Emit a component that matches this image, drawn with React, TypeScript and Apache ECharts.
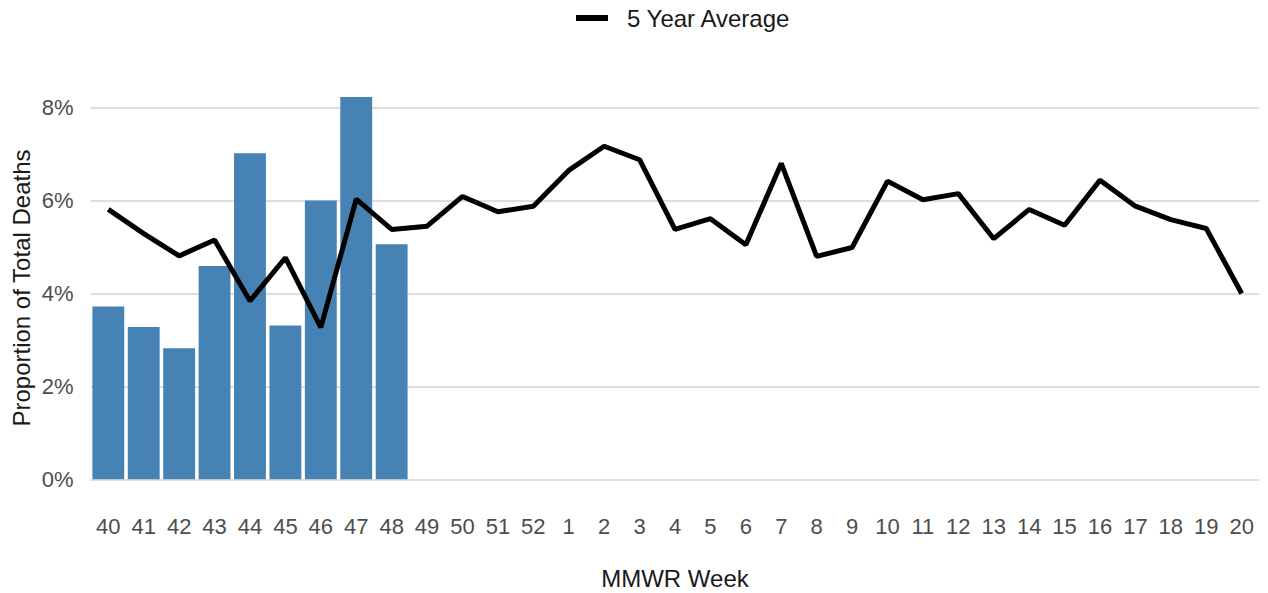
import React, { useEffect, useRef } from "react";
import * as echarts from "echarts";

const weeks: string[] = [
  "40", "41", "42", "43", "44", "45", "46", "47", "48", "49", "50", "51", "52",
  "1", "2", "3", "4", "5", "6", "7", "8", "9", "10", "11", "12", "13", "14",
  "15", "16", "17", "18", "19", "20",
];

const seasonValues: (number | null)[] = [
  3.72, 3.28, 2.82, 4.59, 7.02, 3.31, 6.0, 8.23, 5.06,
];

const fiveYearAverage: number[] = [
  5.81, 5.29, 4.81, 5.15, 3.84, 4.77, 3.27, 6.03, 5.38, 5.45, 6.09, 5.76, 5.88,
  6.65, 7.17, 6.88, 5.38, 5.61, 5.05, 6.8, 4.8, 4.99, 6.42, 6.02, 6.15, 5.18,
  5.81, 5.47, 6.44, 5.88, 5.59, 5.4, 4.0,
];

const yTicks: number[] = [0, 2, 4, 6, 8];

const FONT = "'Liberation Sans', Arial, Helvetica, sans-serif";

export default function App() {
  const ref = useRef<HTMLDivElement>(null);

  useEffect(() => {
    document.body.style.margin = "0";
    if (!ref.current) return;
    const chart = echarts.init(ref.current, undefined, { renderer: "svg" });
    const barData = weeks.map((_, i) =>
      i < seasonValues.length ? seasonValues[i] : null
    );
    chart.setOption({
      animation: false,
      backgroundColor: "#ffffff",
      textStyle: { fontFamily: FONT },
      grid: { left: 90.6, right: 8.6, top: 107.7, bottom: 113.7 },
      legend: {
        data: ["5 Year Average"],
        left: 576,
        top: 6,
        padding: 0,
        icon: "rect",
        itemWidth: 32,
        itemHeight: 6,
        itemGap: 10,
        textStyle: {
          fontFamily: FONT,
          fontSize: 24,
          color: "#1a1a1a",
          padding: [0, 0, 0, 14],
        },
      },
      xAxis: {
        type: "category",
        data: weeks,
        boundaryGap: true,
        axisLine: { show: false },
        axisTick: { show: false },
        splitLine: { show: false },
        axisLabel: {
          interval: 0,
          margin: 36,
          fontSize: 22,
          color: "#4d4d4d",
          fontFamily: FONT,
        },
      },
      yAxis: {
        type: "value",
        min: yTicks[0],
        max: yTicks[yTicks.length - 1],
        interval: 2,
        axisLine: { show: false },
        axisTick: { show: false },
        splitLine: { lineStyle: { color: "#d3d3d3", width: 1.6 } },
        axisLabel: {
          margin: 17,
          fontSize: 22,
          color: "#4d4d4d",
          fontFamily: FONT,
          formatter: "{value}%",
        },
      },
      series: [
        {
          name: "Current Season",
          type: "bar",
          data: barData,
          barWidth: "90%",
          clip: false,
          itemStyle: { color: "#4682b4" },
          z: 2,
        },
        {
          name: "5 Year Average",
          type: "line",
          data: fiveYearAverage,
          showSymbol: false,
          symbol: "none",
          lineStyle: { color: "#000000", width: 5 },
          itemStyle: { color: "#000000" },
          z: 3,
        },
      ],
      graphic: [
        {
          type: "text",
          x: 675,
          y: 578,
          style: {
            text: "MMWR Week",
            fontFamily: FONT,
            fontSize: 24,
            fill: "#1a1a1a",
            align: "center",
            verticalAlign: "middle",
          },
        },
        {
          type: "text",
          x: 21,
          y: 288,
          rotation: Math.PI / 2,
          style: {
            text: "Proportion of Total Deaths",
            fontFamily: FONT,
            fontSize: 24,
            fill: "#1a1a1a",
            align: "center",
            verticalAlign: "middle",
          },
        },
      ],
    });
    return () => chart.dispose();
  }, []);

  return <div ref={ref} style={{ width: 1268, height: 593 }} />;
}
